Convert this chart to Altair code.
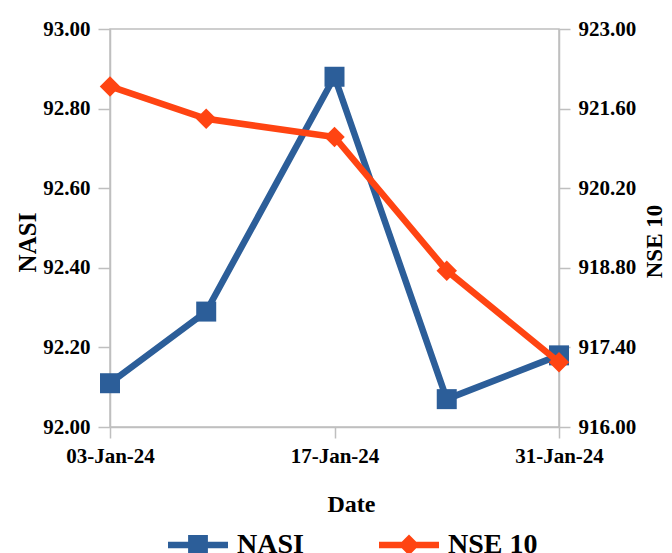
import altair as alt
import pandas as pd

# ---- data ----
dates = ["2024-01-03", "2024-01-09", "2024-01-17", "2024-01-24", "2024-01-31"]
nasi = [92.11, 92.29, 92.88, 92.07, 92.18]
nse10 = [921.99, 921.42, 921.10, 918.75, 917.14]
series = ["NASI", "NSE 10"]
colors = ["#2C5E99", "#FF4412"]
nasi_ticks = [92.0, 92.2, 92.4, 92.6, 92.8, 93.0]
nse_ticks = [916.0, 917.4, 918.8, 920.2, 921.6, 923.0]

df = pd.DataFrame({"Date": dates, "NASI": nasi, "NSE10": nse10})
legend_df = pd.DataFrame({"series": series})

FONT = "Liberation Serif"
GRAY = "#BFBFBF"

# legend glyphs: line with a square / a diamond in the middle (unit coords)
sq_path = "M-1,-0.11H-0.33V-0.33H0.33V-0.11H1V0.11H0.33V0.33H-0.33V0.11H-1Z"
dm_path = "M-1,-0.11H-0.24L0,-0.35L0.24,-0.11H1V0.11H0.24L0,0.35L-0.24,0.11H-1Z"

def d(day):
    return alt.DateTime(year=2024, month=1, date=day, utc=True)

x_enc = alt.X(
    "Date:T",
    scale=alt.Scale(type="utc", domain=[d(3), d(31)], nice=False),
    axis=alt.Axis(
        values=[d(3), d(17), d(31)],
        labelExpr="utcFormat(datum.value, '%d-%b-%y')",
        labelFlush=False,
        title="Date",
        titlePadding=26,
        titleX=241,
        labelPadding=7,
        tickSize=11,
        labelFontSize=21,
        titleFontSize=24,
        grid=False,
    ),
)

base = alt.Chart(df)

nasi_y = alt.Y(
    "NASI:Q",
    scale=alt.Scale(domain=[92, 93], nice=False, zero=False),
    axis=alt.Axis(
        orient="left", values=nasi_ticks, format=".2f", title="NASI",
        titleFontSize=25, titlePadding=2, titleY=213, labelPadding=8,
        tickSize=12, labelFontSize=21, grid=False,
    ),
)
nse_y = alt.Y(
    "NSE10:Q",
    scale=alt.Scale(domain=[916, 923], nice=False, zero=False),
    axis=alt.Axis(
        orient="right", values=nse_ticks, format=".2f", title="NSE 10",
        titleFontSize=23, titlePadding=8, titleY=212, labelPadding=8,
        tickSize=11, titleAngle=270, titleBaseline="top",
        labelFontSize=21, grid=False,
    ),
)

nasi_layer = alt.layer(
    base.mark_line(color=colors[0], strokeWidth=6.5).encode(x=x_enc, y=nasi_y),
    base.mark_point(shape="square", filled=True, size=400, opacity=1,
                    color=colors[0]).encode(x=x_enc, y=nasi_y),
)
nse_layer = alt.layer(
    base.mark_line(color=colors[1], strokeWidth=6.5).encode(x=x_enc, y=nse_y),
    base.mark_point(shape="diamond", filled=True, size=420, opacity=1,
                    color=colors[1]).encode(x=x_enc, y=nse_y),
)

leg = alt.Legend(
    title=None, orient="none", legendX=58, legendY=486, direction="horizontal",
    symbolSize=3600, symbolStrokeWidth=0, symbolOpacity=1, labelFontSize=28,
    labelOffset=9, columnPadding=75, padding=0, labelFont=FONT,
    labelFontWeight="bold", labelColor="black",
)
legend_layer = (
    alt.Chart(legend_df)
    .transform_filter("false")
    .mark_point(filled=True, opacity=1)
    .encode(
        color=alt.Color("series:N", scale=alt.Scale(domain=series, range=colors), legend=leg),
        shape=alt.Shape("series:N", scale=alt.Scale(domain=series, range=[sq_path, dm_path]), legend=leg),
    )
)

chart = (
    alt.layer(nasi_layer, nse_layer, legend_layer)
    .resolve_scale(y="independent")
    .properties(
        width=449, height=398,
        autosize=alt.AutoSizeParams(type="none"),
        padding={"left": 110, "top": 29, "right": 113, "bottom": 126},
        background="white",
    )
    .configure_view(stroke=GRAY, strokeWidth=1.5)
    .configure_axis(
        domainColor=GRAY, domainWidth=1.5, tickColor=GRAY, tickWidth=1.5,
        labelFont=FONT, labelFontWeight="bold", labelColor="black",
        titleFont=FONT, titleFontWeight="bold", titleColor="black",
    )
)

chart.save("out.html", embed_options={"renderer": "svg", "actions": False})
